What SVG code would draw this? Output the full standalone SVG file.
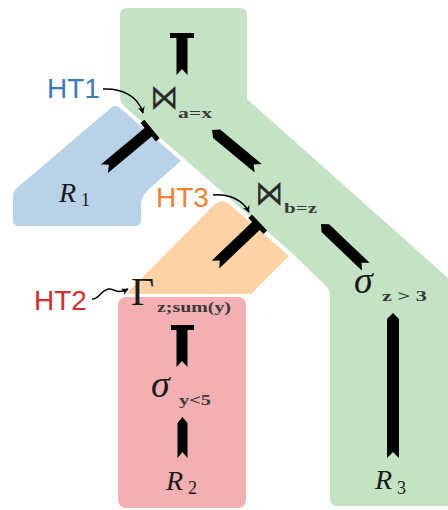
<svg xmlns="http://www.w3.org/2000/svg" width="448" height="510" viewBox="0 0 448 510">
<style>
.math{font-family:"Liberation Serif","DejaVu Serif",serif;fill:#1a1a1a}
.it{font-style:italic}
.sub{font-family:"Liberation Serif","DejaVu Serif",serif;font-weight:bold;fill:#3a3a3a;font-size:14px}
.bow{font-family:"DejaVu Sans",sans-serif;fill:#2a2a2a;font-size:35px}
.lbl{font-family:"Liberation Sans",Arial,sans-serif;font-size:28px}
.arr{fill:#000}
.ptr{fill:none;stroke:#000;stroke-width:1.5}
</style>
<defs>
<marker id="ah" viewBox="0 0 10 10" refX="9" refY="5" markerWidth="7" markerHeight="7" markerUnits="userSpaceOnUse" orient="auto">
<path d="M0,0 L10,5 L0,10 L3,5 Z" fill="#000"/>
</marker>
</defs>
<g id="regions">
<path id="ht-green" d="M127,8 H240 Q247,8 247,15 V99 L448,278 V506 H337 Q330,506 330,499 V297 Q330,290 326,286 L293,254 L124,106 Q120,102 120,96 V15 Q120,8 127,8 Z" fill="#c4e3c4"/>
<path id="ht-blue" d="M120,108 L181,161 L150,188 Q141,196 141,205 V220 Q141,226 135,226 H19 Q13,226 13,220 V196 Q13,191 18,187 L112,107 Q116,104 120,108 Z" fill="#b8d2e8"/>
<path id="ht-orange" d="M126,294 L214,205 Q220,199 228,203 L289,256 L251,294 Z" fill="#fdd3a6"/>
<rect id="ht-pink" x="118" y="297" width="128" height="211" rx="8" fill="#f2b0b3"/>
</g>
<g id="connectors">
<path class="arr" d="M170,33 H194 V38 H187.5 V75 L182,69 L176.5,75 V38 H170 Z"/>
<path class="arr" transform="translate(152,129) rotate(50.2)" d="M-12,0 H12 V5 H5.5 V62 L0,56 L-5.5,62 V5 H-12 Z"/>
<path class="arr" transform="translate(212,130) rotate(-50.4)" d="M0,0 L5.5,6 V60 L0,54 L-5.5,60 V6 Z"/>
<path class="arr" transform="translate(259.5,222.5) rotate(46.3)" d="M-11,0 H11 V5 H5.5 V61 L0,55 L-5.5,61 V5 H-11 Z"/>
<path class="arr" transform="translate(321,224) rotate(-46.3)" d="M0,0 L5.5,6 V62 L0,56 L-5.5,62 V6 Z"/>
<path class="arr" d="M171,325 H194 V330 H187.5 V367 L182,361 L176.5,367 V330 H171 Z"/>
<path class="arr" d="M182.5,417 L187.5,423 V458 L182.5,452 L177.5,458 V423 Z"/>
<path class="arr" d="M393,313 L399,319 V458 L393,452 L387,458 V319 Z"/>
</g>
<g id="n-join-ax">
<text class="bow" transform="translate(150,109) scale(0.8,1)">⋈</text>
<text class="sub" x="178" y="118" textLength="34" lengthAdjust="spacingAndGlyphs">a=x</text>
</g>
<g id="n-join-bz">
<text class="bow" transform="translate(255,205) scale(0.8,1)">⋈</text>
<text class="sub" x="284" y="213" textLength="33" lengthAdjust="spacingAndGlyphs">b=z</text>
</g>
<g id="n-R1">
<text class="math it" x="59" y="202" font-size="28">R</text>
<text class="math" x="81" y="206" font-size="18">1</text>
</g>
<g id="n-gamma">
<text class="math" x="131" y="305" font-size="40">Γ</text>
<text class="sub" x="157" y="312" textLength="74" lengthAdjust="spacingAndGlyphs">z;sum(y)</text>
</g>
<g id="n-sigma-y">
<text class="math it" x="151" y="397" font-size="38">σ</text>
<text class="sub" x="179" y="405" textLength="32" lengthAdjust="spacingAndGlyphs">y&lt;5</text>
</g>
<g id="n-R2">
<text class="math it" x="166" y="490" font-size="28">R</text>
<text class="math" x="188" y="494" font-size="18">2</text>
</g>
<g id="n-sigma-z">
<text class="math it" x="354" y="293" font-size="38">σ</text>
<text class="sub" x="382" y="301" textLength="45" lengthAdjust="spacingAndGlyphs">z &gt; 3</text>
</g>
<g id="n-R3">
<text class="math it" x="375" y="489" font-size="28">R</text>
<text class="math" x="397" y="494" font-size="18">3</text>
</g>
<g id="lbl-HT1">
<text class="lbl" x="47" y="98" fill="#3a7bbf">HT1</text>
<path class="ptr" d="M103,89 C120,88 138,95 143,113" marker-end="url(#ah)"/>
</g>
<g id="lbl-HT3">
<text class="lbl" x="156" y="207" fill="#f0812f">HT3</text>
<path class="ptr" d="M213,195 C228,193 243,200 249,212" marker-end="url(#ah)"/>
</g>
<g id="lbl-HT2">
<text class="lbl" x="34" y="310" fill="#d92b2b">HT2</text>
<path class="ptr" d="M92,299 C99,300 102,288 110,289 C116,290 118,294 128,289" marker-end="url(#ah)"/>
</g>
</svg>
